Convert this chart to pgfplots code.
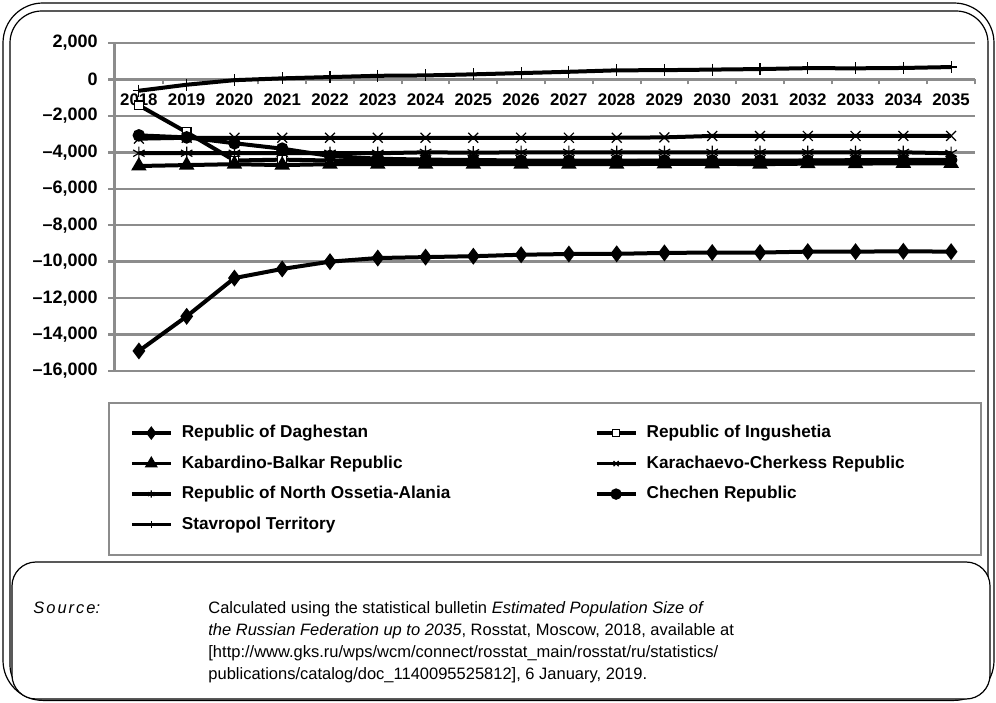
\documentclass[border=0pt]{standalone}
\usepackage{fontspec}
\setmainfont{Liberation Sans}
\usepackage{pgfplots}
\pgfplotsset{compat=1.18}
\definecolor{gridgray}{RGB}{140,140,140}

\begin{document}
\begin{tikzpicture}
\path[use as bounding box] (0pt,0pt) rectangle (498pt,351pt);
% outer double frame
\draw[line width=0.6pt, rounded corners=20pt] (1.5pt,0.8pt) rectangle (497pt,349.5pt);
\draw[line width=0.6pt, rounded corners=16pt] (5pt,2.5pt) rectangle (494pt,345.5pt);

\begin{axis}[
  at={(57.5pt,165.5pt)}, anchor=south west,
  scale only axis, width=430pt, height=164pt,
  xmin=2017.5, xmax=2035.5, ymin=-16000, ymax=2000,
  axis x line*=middle, axis y line*=left,
  x axis line style={draw=gridgray, line width=1.2pt},
  y axis line style={draw=gridgray, line width=1.5pt},
  scaled y ticks=false,
  ytick={-16000,-14000,...,2000},
  yticklabels={{--16,000},{--14,000},{--12,000},{--10,000},{--8,000},{--6,000},{--4,000},{--2,000},0,{2,000}},
  ymajorgrids, grid style={draw=gridgray, line width=1.2pt},
  xtick={2018,2019,...,2035},
  xticklabels={2018,2019,2020,2021,2022,2023,2024,2025,2026,2027,2028,2029,2030,2031,2032,2033,2034,2035},
  minor xtick={2017.5,2018.5,...,2035.5},
  tick align=outside,
  major tick length=3.5pt, minor tick length=2.5pt,
  x tick style={draw=none},
  minor x tick style={draw=gridgray, line width=1pt},
  y tick style={draw=gridgray, line width=1.2pt},
  yticklabel style={font=\bfseries\fontsize{9}{10}\selectfont, inner sep=2pt, xshift=-3pt},
  xticklabel style={font=\bfseries\fontsize{8.4}{10}\selectfont, inner sep=1pt, yshift=-2.5pt},
  clip=false,
  legend columns=2,
  legend cell align=left,
  legend style={at={(axis description cs:-0.00814,-0.0945)}, anchor=north west,
    draw=gridgray, line width=1pt, inner xsep=10.5pt, inner ysep=11pt,
    row sep=7.15pt, column sep=0pt,
    font=\bfseries\fontsize{8.6}{10}\selectfont,
    nodes={inner sep=0pt, text height=6.3pt, text depth=1.8pt}},
  legend image code/.code={
    \draw[#1, line width=1.8pt] (0pt,0pt) -- (19.5pt,0pt);
    \draw[#1, draw=none, mark size=1.8pt, mark repeat=2, mark phase=2] plot coordinates {(0pt,0pt) (9.75pt,0pt) (19.5pt,0pt)};
    \path (24pt,0pt);},
  every axis plot/.append style={line width=2pt, black},
]
\addplot[mark=diamond*, mark size=2.6pt, mark options={solid, fill=black}] coordinates {
(2018,-14900) (2019,-13000) (2020,-10900) (2021,-10400) (2022,-10000) (2023,-9800)
(2024,-9750) (2025,-9700) (2026,-9620) (2027,-9580) (2028,-9570) (2029,-9520)
(2030,-9500) (2031,-9500) (2032,-9450) (2033,-9450) (2034,-9430) (2035,-9450)};
\addlegendentry{\makebox[206.5pt][l]{Republic of Daghestan}}
\addplot[mark=square*, mark size=2.2pt, mark options={solid, fill=white, line width=0.6pt}] coordinates {
(2018,-1420) (2019,-2900) (2020,-4450) (2021,-4400) (2022,-4450) (2023,-4470)
(2024,-4480) (2025,-4480) (2026,-4480) (2027,-4480) (2028,-4480) (2029,-4470)
(2030,-4470) (2031,-4470) (2032,-4460) (2033,-4460) (2034,-4450) (2035,-4450)};
\addlegendentry{\makebox[156.5pt][l]{Republic of Ingushetia}}
\addplot[mark=triangle*, mark size=2.5pt, mark options={solid, fill=black}] coordinates {
(2018,-4750) (2019,-4700) (2020,-4650) (2021,-4700) (2022,-4650) (2023,-4650)
(2024,-4650) (2025,-4650) (2026,-4650) (2027,-4650) (2028,-4650) (2029,-4630)
(2030,-4630) (2031,-4650) (2032,-4620) (2033,-4620) (2034,-4600) (2035,-4600)};
\addlegendentry{\makebox[206.5pt][l]{Kabardino-Balkar Republic}}
\addplot[mark=x, mark size=3.5pt, mark options={solid, line width=0.6pt}] coordinates {
(2018,-3250) (2019,-3200) (2020,-3200) (2021,-3200) (2022,-3200) (2023,-3200)
(2024,-3200) (2025,-3200) (2026,-3200) (2027,-3200) (2028,-3200) (2029,-3180)
(2030,-3100) (2031,-3100) (2032,-3100) (2033,-3100) (2034,-3100) (2035,-3100)};
\addlegendentry{\makebox[156.5pt][l]{Karachaevo-Cherkess Republic}}
\addplot[mark=asterisk, mark size=3.3pt, mark options={solid, line width=0.6pt}] coordinates {
(2018,-4050) (2019,-4050) (2020,-4050) (2021,-4050) (2022,-4050) (2023,-4050)
(2024,-4000) (2025,-4020) (2026,-4000) (2027,-4000) (2028,-4000) (2029,-4000)
(2030,-4000) (2031,-4000) (2032,-4000) (2033,-4000) (2034,-4000) (2035,-4050)};
\addlegendentry{\makebox[206.5pt][l]{Republic of North Ossetia-Alania}}
\addplot[mark=*, mark size=2.1pt, mark options={solid, fill=black}] coordinates {
(2018,-3070) (2019,-3180) (2020,-3500) (2021,-3800) (2022,-4200) (2023,-4350)
(2024,-4400) (2025,-4420) (2026,-4450) (2027,-4450) (2028,-4450) (2029,-4450)
(2030,-4450) (2031,-4450) (2032,-4450) (2033,-4430) (2034,-4420) (2035,-4420)};
\addlegendentry{\makebox[156.5pt][l]{Chechen Republic}}
\addplot[mark=+, mark size=3pt, mark options={solid, line width=0.6pt}] coordinates {
(2018,-620) (2019,-290) (2020,-40) (2021,60) (2022,130) (2023,200)
(2024,220) (2025,280) (2026,350) (2027,420) (2028,500) (2029,510)
(2030,540) (2031,570) (2032,620) (2033,610) (2034,630) (2035,680)};
\addlegendentry{\makebox[206.5pt][l]{Stavropol Territory}}
\end{axis}

% source box
\draw[fill=white, line width=0.6pt, rounded corners=12pt] (6pt,1.5pt) rectangle (495pt,70pt);
\node[anchor=base west, inner sep=0pt, font=\itshape\fontsize{8.25}{11}\selectfont] at (16.5pt,44.5pt)
  {S\kern1pt o\kern1pt u\kern1pt r\kern1pt c\kern1pt e:};
\node[anchor=base west, inner sep=0pt, align=left, font=\fontsize{8.25}{11}\selectfont] at (104pt,11.5pt)
  {Calculated using the statistical bulletin \textit{Estimated Population Size of}\\
   \textit{the Russian Federation up to 2035}, Rosstat, Moscow, 2018, available at\\
   {[}http://www.gks.ru/wps/wcm/connect/rosstat\_main/rosstat/ru/statistics/\\
   publications/catalog/doc\_1140095525812{]}, 6 January, 2019.};
\end{tikzpicture}
\end{document}
